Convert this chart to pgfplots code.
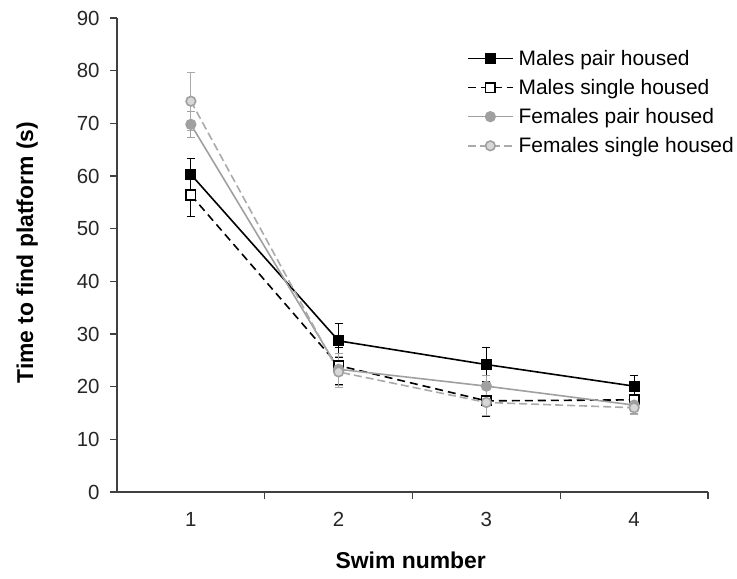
\documentclass[border=0pt]{standalone}
\usepackage{fontspec}
\setmainfont{Liberation Sans}
\usepackage{pgfplots}
\pgfplotsset{compat=1.18}

\definecolor{axiscol}{RGB}{64,64,64}
\definecolor{fgray}{RGB}{160,160,160}
\definecolor{fgraylt}{RGB}{170,170,170}
\definecolor{fgrayfill}{RGB}{215,215,215}

\begin{document}
\begin{tikzpicture}
\begin{axis}[
    name=ax,
    scale only axis,
    width=591bp, height=474bp,
    xmin=0.5, xmax=4.5,
    ymin=0, ymax=90,
    axis x line*=bottom, axis y line*=left,
    axis line style={-, draw=axiscol, line width=1.3bp},
    xtick={1,2,3,4},
    xticklabels={1,2,3,4},
    major x tick style={draw=none},
    minor xtick={1.5,2.5,3.5,4.5},
    ytick={0,10,...,90},
    tick align=outside,
    major tick length=7bp, minor tick length=7bp,
    tick style={draw=axiscol, line width=1.1bp},
    /pgf/number format/assume math mode=true,
    ticklabel style={font=\fontsize{20.5}{24}\selectfont, text=black!85},
    xticklabel style={yshift=-10bp},
    yticklabel style={xshift=-7bp},
    xlabel={\textbf{Swim number}},
    ylabel={\textbf{Time to find platform (s)}},
    label style={font=\fontsize{23}{27}\selectfont},
    xlabel style={at={(axis description cs:0.497,-0.144)}, anchor=center},
    ylabel style={at={(axis description cs:-0.152,0.505)}, anchor=center, rotate=0},
    legend cell align=left,
    legend style={
        at={(axis description cs:0.592,0.937)}, anchor=north west,
        draw=none, fill=none, inner sep=0pt,
        font=\fontsize{21}{25}\selectfont,
        row sep=8.5bp,
        nodes={inner xsep=5bp},
    },
    legend image code/.code={
        \draw[mark repeat=2, mark phase=2, #1]
            plot coordinates {(0bp,0bp) (22.5bp,0bp) (45bp,0bp)};
    },
    every axis plot/.append style={line width=1.6bp},
    error bars/error bar style={solid, line width=1bp},
    error bars/error mark options={rotate=90, mark size=4bp, solid, line width=1bp},
]

% Males pair housed
\addplot[color=black, mark=square*, mark size=4.8bp, mark options={solid, fill=black},
    error bars/.cd, y dir=both, y explicit]
    coordinates {
    (1,60.3) +- (0,3.0)
    (2,28.7) +- (0,3.2)
    (3,24.2) +- (0,3.2)
    (4,20.1) +- (0,2.0)
    };

% Males single housed
\addplot[color=black, dash pattern=on 8bp off 5bp, mark=square*, mark size=4.8bp,
    mark options={solid, fill=white, draw=black},
    error bars/.cd, y dir=both, y explicit]
    coordinates {
    (1,56.4) +- (0,4.0)
    (2,24.0) +- (0,3.5)
    (3,17.3) +- (0,3.0)
    (4,17.5) +- (0,1.5)
    };

% Females pair housed
\addplot[color=fgray, mark=*, mark size=4.8bp, mark options={solid, fill=fgray},
    error bars/.cd, y dir=both, y explicit]
    coordinates {
    (1,69.8) +- (0,2.5)
    (2,23.3) +- (0,3.0)
    (3,20.1) +- (0,2.0)
    (4,16.5) +- (0,1.5)
    };

% Females single housed
\addplot[color=fgraylt, dash pattern=on 8bp off 4bp, mark=*, mark size=4.8bp,
    mark options={solid, fill=fgrayfill, draw=fgray},
    error bars/.cd, y dir=both, y explicit]
    coordinates {
    (1,74.2) +- (0,5.5)
    (2,22.8) +- (0,3.0)
    (3,17.0) +- (0,2.5)
    (4,16.0) +- (0,1.2)
    };

\legend{Males pair housed, Males single housed, Females pair housed, Females single housed}
\end{axis}
\pgfresetboundingbox
\path[use as bounding box] ([xshift=-117bp,yshift=-87bp]ax.south west) rectangle ([xshift=29bp,yshift=18bp]ax.north east);
\end{tikzpicture}
\end{document}
